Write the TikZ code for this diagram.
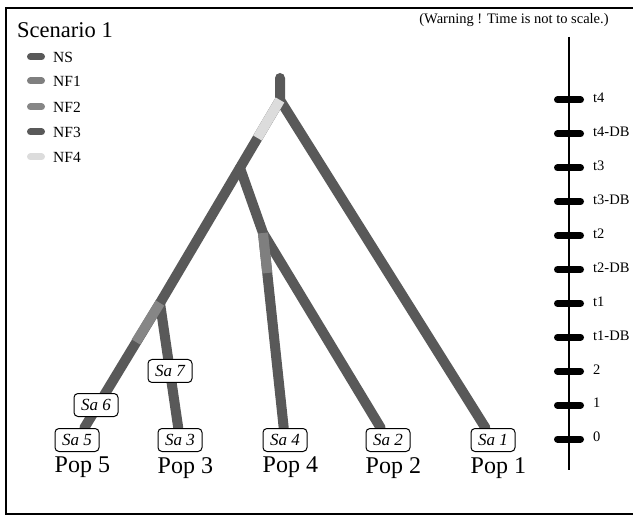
\documentclass[tikz,border=0pt]{standalone}
\usepackage{fontspec}
\setmainfont{Liberation Serif}
\usetikzlibrary{positioning,backgrounds}
\definecolor{nscol}{HTML}{595959}
\definecolor{nfone}{HTML}{7F7F7F}
\definecolor{nftwo}{HTML}{868686}
\definecolor{nfthree}{HTML}{595959}
\definecolor{nffour}{HTML}{DCDCDC}
\tikzset{
    branch/.style={line width=10pt, nscol, line cap=round, line join=round},
    segment/.style={line width=10pt},
    sample/.style={draw, line width=1pt, rounded corners=4pt, fill=white, minimum width=44pt,
        minimum height=23pt, inner sep=1pt, font=\fontsize{17}{17}\selectfont\itshape},
    pop/.style={inner sep=0pt, font=\fontsize{24}{24}\selectfont},
    swatch/.style={line width=7pt, line cap=round},
    tickmark/.style={line width=7pt, line cap=round},
    small/.style={inner sep=0pt, font=\fontsize{14.5}{14.5}\selectfont},
}
\begin{document}
\begin{tikzpicture}[x=1pt, y=-1pt]
    \useasboundingbox (0,0) rectangle (633,516);
    \draw [line width=2pt] (633,8) -- (6,8) -- (6,514) -- (633,514);
    % legend
    \node [anchor=base west, inner sep=0pt, font=\fontsize{22.5}{22.5}\selectfont] (title) at (17,38) {Scenario 1};
    \foreach \y/\c/\t [count=\i] in {57/nscol/NS, 81/nfone/NF1, 107/nftwo/NF2, 132/nfthree/NF3, 157/nffour/NF4} {
        \draw [swatch, \c] (30.5,\y) -- (41.5,\y);
        \node [small, anchor=west, font=\fontsize{15.5}{15.5}\selectfont] (leg\i) at (53,\y) {\t};
    }
    % samples
    \foreach \p/\x in {5/77, 3/180, 4/285, 2/388, 1/493} {
        \node [sample] (sa\p) at (\x,440) {Sa \p};
        \node [pop, below right=5pt and 0pt of sa\p.south west] (pop\p) {Pop \p};
    }
    \node [sample] (sa6) at (96,405) {Sa 6};
    \node [sample] (sa7) at (170,371) {Sa 7};
    % tree
    \coordinate (top) at (280,78);
    \coordinate (root) at (280,100);
    \coordinate (anc2) at (240,168);
    \coordinate (anc3) at (263,233);
    \coordinate (anc4) at (160,303);
    \coordinate (nf4) at (257.5,138);
    \coordinate (nf1) at (267.3,273);
    \coordinate (nf2) at (136,342);
    \begin{scope}[on background layer]
        \draw [branch] (top) -- (root) -- (sa1);
        \draw [branch] (root) -- (anc4) -- (sa5);
        \draw [branch] (anc4) -- (sa3);
        \draw [branch] (anc2) -- (anc3) -- (sa2);
        \draw [branch] (anc3) -- (sa4);
        \draw [segment, nffour] (root) -- (nf4);
        \draw [segment, nfone] (anc3) -- (nf1);
        \draw [segment, nftwo] (anc4) -- (nf2);
    \end{scope}
    % time axis
    \node [small] (warn) at (514,20) {(Warning ! Time is not to scale.)};
    \coordinate (axtop) at (569,37);
    \coordinate (axbot) at (569,470);
    \draw [line width=1.2pt] (axtop) -- (axbot);
    \foreach \t [count=\i from 0] in {t4, t4-DB, t3, t3-DB, t2, t2-DB, t1, t1-DB, 2, 1, 0} {
        \pgfmathsetmacro\ty{100+33.9*\i}
        \draw [tickmark] (557.5,\ty) -- (580.5,\ty);
        \node [small, anchor=west] (tk\i) at (593,\ty-2) {\t};
    }
\end{tikzpicture}
\end{document}
